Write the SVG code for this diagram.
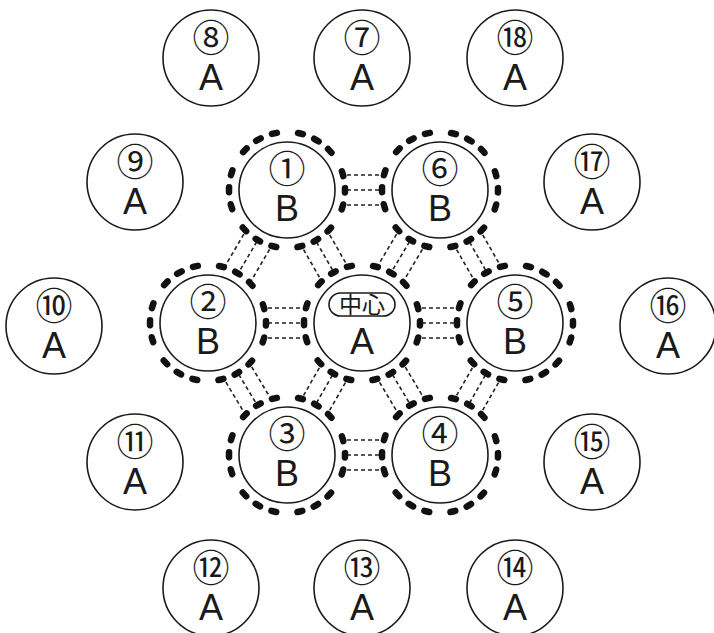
<svg xmlns="http://www.w3.org/2000/svg" width="714" height="633" viewBox="0 0 714 633">
<defs>
<style>
.bg{fill:#fff}
.node{fill:#fff;stroke:#1a1a1a;stroke-width:1.6}
.ring{fill:none;stroke:#111;stroke-width:6.5;stroke-linecap:round;stroke-dasharray:5.06 12.15 5.06 12.15 5.06 21.26;stroke-dashoffset:19.74}
.lbl{fill:#1a1a1a;text-anchor:middle}
.num{font-family:"Noto Sans CJK JP","DejaVu Sans",sans-serif;font-size:37px}
.let{font-family:"Liberation Sans",Arial,sans-serif;font-size:36px}
.cj{font-family:"Noto Sans CJK JP",sans-serif;font-size:23px;fill:#1a1a1a;text-anchor:middle}
.pill{fill:none;stroke:#1a1a1a;stroke-width:1.6}
.conn line{stroke:#222;stroke-width:1.6;stroke-dasharray:4 3;fill:none}
</style>
</defs>
<rect class="bg" x="0" y="0" width="714" height="633"/>

<g id="connectors" class="conn">
<line x1="347" y1="175" x2="380" y2="175"/><line x1="347" y1="190" x2="380" y2="190"/><line x1="347" y1="205" x2="380" y2="205"/>
<line x1="243.8" y1="234.2" x2="225.4" y2="265.6"/><line x1="256.7" y1="241.8" x2="238.3" y2="273.2"/><line x1="269.6" y1="249.4" x2="251.2" y2="280.8"/>
<line x1="329.7" y1="234.8" x2="345.4" y2="262.4"/><line x1="316.6" y1="242.2" x2="332.4" y2="269.8"/><line x1="303.6" y1="249.6" x2="319.4" y2="277.2"/>
<line x1="396.6" y1="234.1" x2="379.6" y2="262.7"/><line x1="409.5" y1="241.7" x2="392.5" y2="270.3"/><line x1="422.4" y1="249.3" x2="405.4" y2="277.9"/>
<line x1="482.7" y1="234.8" x2="498.5" y2="262.4"/><line x1="469.6" y1="242.2" x2="485.4" y2="269.8"/><line x1="456.6" y1="249.6" x2="472.4" y2="277.2"/>
<line x1="268" y1="308" x2="302" y2="308"/><line x1="268" y1="323" x2="302" y2="323"/><line x1="268" y1="338" x2="302" y2="338"/>
<line x1="422" y1="308" x2="455" y2="308"/><line x1="422" y1="323" x2="455" y2="323"/><line x1="422" y1="338" x2="455" y2="338"/>
<line x1="251.7" y1="366.8" x2="269.1" y2="395.8"/><line x1="238.8" y1="374.5" x2="256.2" y2="403.5"/><line x1="225.9" y1="382.2" x2="243.3" y2="411.2"/>
<line x1="319.3" y1="367.8" x2="303.6" y2="395.4"/><line x1="332.4" y1="375.2" x2="316.6" y2="402.8"/><line x1="345.4" y1="382.6" x2="329.7" y2="410.2"/>
<line x1="405.4" y1="367.1" x2="422.4" y2="395.7"/><line x1="392.5" y1="374.7" x2="409.5" y2="403.3"/><line x1="379.6" y1="382.3" x2="396.6" y2="410.9"/>
<line x1="472.4" y1="367.8" x2="456.6" y2="395.4"/><line x1="485.4" y1="375.2" x2="469.6" y2="402.8"/><line x1="498.5" y1="382.6" x2="482.7" y2="410.2"/>
<line x1="347" y1="440" x2="380" y2="440"/><line x1="347" y1="455" x2="380" y2="455"/><line x1="347" y1="470" x2="380" y2="470"/>
</g>

<!-- inner B nodes and center -->
<g id="n1"><circle class="ring" cx="287" cy="190" r="58"/><circle class="node" cx="287" cy="190" r="48"/><text class="lbl"><tspan class="num" x="287" y="183">①</tspan><tspan class="let" x="287" y="221">B</tspan></text></g>
<g id="n6"><circle class="ring" cx="440" cy="190" r="58"/><circle class="node" cx="440" cy="190" r="48"/><text class="lbl"><tspan class="num" x="440" y="183">⑥</tspan><tspan class="let" x="440" y="221">B</tspan></text></g>
<g id="n2"><circle class="ring" cx="208" cy="323" r="58"/><circle class="node" cx="208" cy="323" r="48"/><text class="lbl"><tspan class="num" x="208" y="316">②</tspan><tspan class="let" x="208" y="354">B</tspan></text></g>
<g id="center"><circle class="ring" cx="362" cy="323" r="58"/><circle class="node" cx="362" cy="323" r="48"/><rect class="pill" x="329" y="293" width="66" height="23" rx="11.5"/><text class="lbl"><tspan class="cj" x="362" y="312.5">中心</tspan><tspan class="let" x="362" y="354">A</tspan></text></g>
<g id="n5"><circle class="ring" cx="515" cy="323" r="58"/><circle class="node" cx="515" cy="323" r="48"/><text class="lbl"><tspan class="num" x="515" y="316">⑤</tspan><tspan class="let" x="515" y="354">B</tspan></text></g>
<g id="n3"><circle class="ring" cx="287" cy="455" r="58"/><circle class="node" cx="287" cy="455" r="48"/><text class="lbl"><tspan class="num" x="287" y="448">③</tspan><tspan class="let" x="287" y="486">B</tspan></text></g>
<g id="n4"><circle class="ring" cx="440" cy="455" r="58"/><circle class="node" cx="440" cy="455" r="48"/><text class="lbl"><tspan class="num" x="440" y="448">④</tspan><tspan class="let" x="440" y="486">B</tspan></text></g>

<!-- outer A nodes -->
<g id="n8"><circle class="node" cx="211" cy="58" r="48"/><text class="lbl"><tspan class="num" x="211" y="52">⑧</tspan><tspan class="let" x="211" y="90">A</tspan></text></g>
<g id="n7"><circle class="node" cx="362" cy="58" r="48"/><text class="lbl"><tspan class="num" x="362" y="52">⑦</tspan><tspan class="let" x="362" y="90">A</tspan></text></g>
<g id="n18"><circle class="node" cx="515" cy="58" r="48"/><text class="lbl"><tspan class="num" x="515" y="52">⑱</tspan><tspan class="let" x="515" y="90">A</tspan></text></g>
<g id="n9"><circle class="node" cx="135" cy="182" r="48"/><text class="lbl"><tspan class="num" x="135" y="176">⑨</tspan><tspan class="let" x="135" y="214">A</tspan></text></g>
<g id="n17"><circle class="node" cx="592" cy="182" r="48"/><text class="lbl"><tspan class="num" x="592" y="176">⑰</tspan><tspan class="let" x="592" y="214">A</tspan></text></g>
<g id="n10"><circle class="node" cx="54" cy="326" r="48"/><text class="lbl"><tspan class="num" x="54" y="320">⑩</tspan><tspan class="let" x="54" y="358">A</tspan></text></g>
<g id="n16"><circle class="node" cx="668" cy="326" r="48"/><text class="lbl"><tspan class="num" x="668" y="320">⑯</tspan><tspan class="let" x="668" y="358">A</tspan></text></g>
<g id="n11"><circle class="node" cx="135" cy="462" r="48"/><text class="lbl"><tspan class="num" x="135" y="456">⑪</tspan><tspan class="let" x="135" y="494">A</tspan></text></g>
<g id="n15"><circle class="node" cx="592" cy="462" r="48"/><text class="lbl"><tspan class="num" x="592" y="456">⑮</tspan><tspan class="let" x="592" y="494">A</tspan></text></g>
<g id="n12"><circle class="node" cx="211" cy="588" r="48"/><text class="lbl"><tspan class="num" x="211" y="582">⑫</tspan><tspan class="let" x="211" y="620">A</tspan></text></g>
<g id="n13"><circle class="node" cx="362" cy="588" r="48"/><text class="lbl"><tspan class="num" x="362" y="582">⑬</tspan><tspan class="let" x="362" y="620">A</tspan></text></g>
<g id="n14"><circle class="node" cx="515" cy="588" r="48"/><text class="lbl"><tspan class="num" x="515" y="582">⑭</tspan><tspan class="let" x="515" y="620">A</tspan></text></g>
</svg>
